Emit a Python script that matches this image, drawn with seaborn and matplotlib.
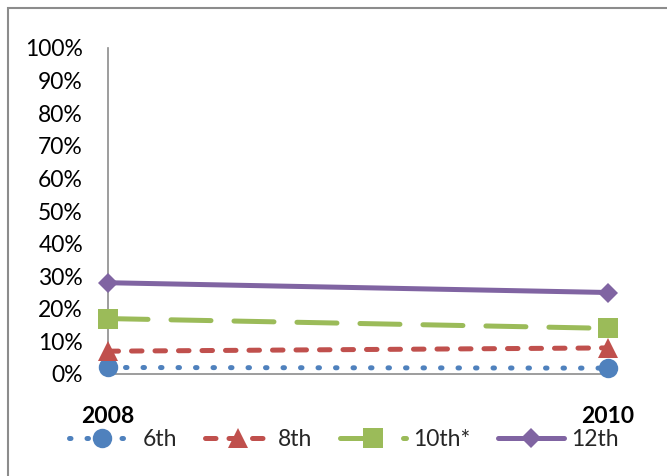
import matplotlib
matplotlib.use("Agg")
import matplotlib.pyplot as plt
from matplotlib.patches import Rectangle
import seaborn as sns
import pandas as pd

years = [2008, 2010]
year_labels = ["2008", "2010"]
grades = ["6th", "8th", "10th*", "12th"]
grade_6 = [0.02, 0.018]
grade_8 = [0.07, 0.08]
grade_10 = [0.17, 0.14]
grade_12 = [0.28, 0.25]
y_ticks = [i / 10 for i in range(11)]
y_tick_labels = [f"{i * 10}%" for i in range(11)]

series = [grade_6, grade_8, grade_10, grade_12]
colors = ["#4F81BD", "#C0504D", "#9BBB59", "#8064A2"]
markers = ["o", "^", "s", "D"]
dash_patterns = [(0.3, 3.2), (2.1, 2.6), (8.0, 4.6), None]
marker_sizes = [14, 14, 14, 10.5]

sns.set_theme(style="white")
plt.rcParams["font.family"] = ["Lato", "DejaVu Sans"]

fig = plt.figure(figsize=(6.67, 4.76), dpi=100)
ax = fig.add_axes([108 / 667, 102 / 476, 500 / 667, 326 / 476])

df = pd.DataFrame({
    "year": years * len(grades),
    "value": [v for s in series for v in s],
    "grade": [g for g in grades for _ in years],
})

for g, c, m, d, ms in zip(grades, colors, markers, dash_patterns, marker_sizes):
    sub = df[df["grade"] == g]
    sns.lineplot(data=sub, x="year", y="value", ax=ax, color=c, marker=m,
                 markersize=ms, markeredgewidth=0, linewidth=3.6,
                 label=g, clip_on=False, zorder=3)
    line = ax.lines[-1]
    if d is not None:
        line.set_dashes(d)
    line.set_dash_capstyle("round")
    line.set_solid_capstyle("round")

ax.set_xlim(2008, 2010)
ax.set_ylim(0, 1)
ax.set_xticks(years)
ax.set_xticklabels(year_labels, fontweight="bold")
ax.set_yticks(y_ticks)
ax.set_yticklabels(y_tick_labels)
ax.tick_params(axis="x", length=0, pad=23, labelsize=16.5, colors="black")
ax.tick_params(axis="y", length=0, pad=18, labelsize=16.5, colors="black")
ax.set_xlabel("")
ax.set_ylabel("")

for side in ["top", "right"]:
    ax.spines[side].set_visible(False)
for side in ["left", "bottom"]:
    ax.spines[side].set_color("#8C8C8C")
    ax.spines[side].set_linewidth(1.2)

handles, labels = ax.get_legend_handles_labels()
ax.get_legend().remove()
fig.legend(handles, labels, loc="center", bbox_to_anchor=(344 / 667, 36 / 476),
           ncol=4, frameon=False, fontsize=16.5, handlelength=2.9,
           handletextpad=0.3, columnspacing=1.2, borderaxespad=0)

fig.patches.append(Rectangle((8 / 667, -0.1), 1.2, (476 - 8) / 476 + 0.1,
                             transform=fig.transFigure, fill=False,
                             edgecolor="#8C8C8C", linewidth=1.5))

fig.savefig("out.png", dpi=100, facecolor="white")
